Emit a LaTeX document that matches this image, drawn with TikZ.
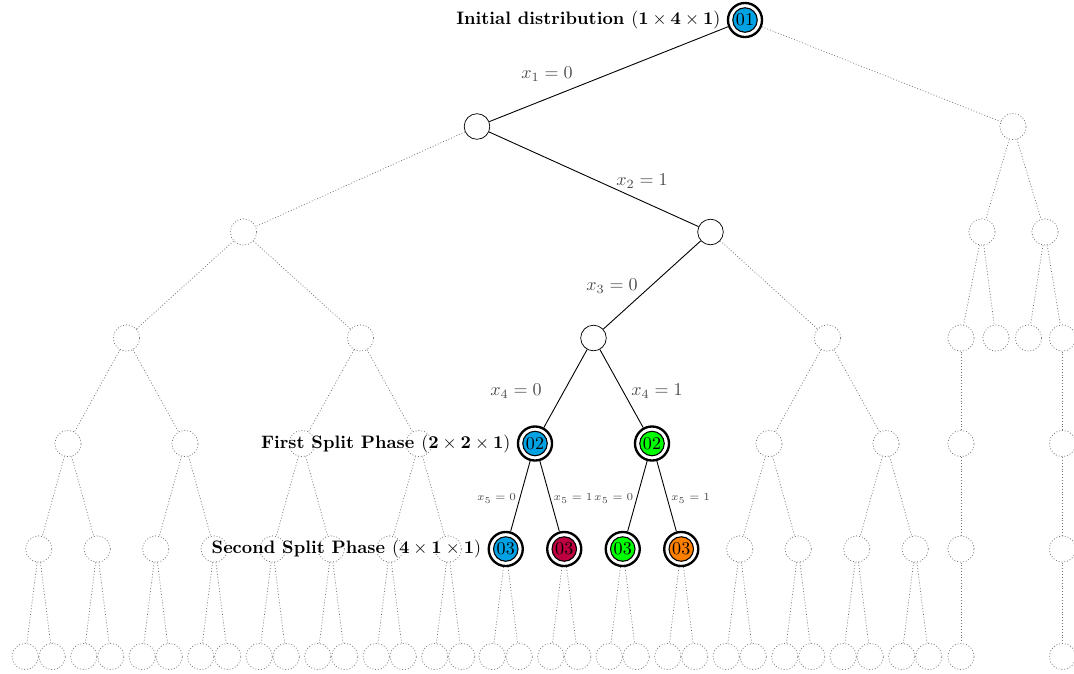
\documentclass[tikz,border=0pt]{standalone}
\definecolor{nodeblue}{RGB}{0,162,227}
\definecolor{nodered}{RGB}{191,0,64}
\definecolor{nodegreen}{RGB}{0,255,0}
\definecolor{nodeorange}{RGB}{255,128,0}
\tikzset{
  ghost/.style={circle, draw=black!55, dash pattern=on 0.5pt off 1.1pt,
    minimum size=14.6pt, inner sep=0pt},
  plain/.style={circle, draw, minimum size=14.2pt, inner sep=0pt},
  phase/.style={circle, draw, line width=1.3pt, minimum size=18.9pt, inner sep=0pt,
    path picture={\draw[line width=0.6pt, fill=#1]
      (path picture bounding box.center) circle (6.8pt);}},
  ghostedge/.style={draw=black!55, dash pattern=on 0.5pt off 1.1pt},
  pathedge/.style={draw=black, line width=0.5pt},
  elabel/.style={text=black!70},
  slabel/.style={text=black!70, font=\fontsize{6.5}{8}\selectfont},
  phaselabel/.style={font=\bfseries},
}
\begin{document}
\begin{tikzpicture}[x=0.555pt, y=-0.555pt]
\useasboundingbox (0,0) rectangle (1074,674);

% upper levels
\node[phase=nodeblue, label={[phaselabel]left:Initial distribution $(\mathbf{1}\times\mathbf{4}\times\mathbf{1})$}] (r) at (745,20) {01};
\node[plain] (a) at (477,126.5) {};
\node[ghost] (b) at (1013,126.5) {};
\node[ghost] (aa) at (243.5,232) {};
\node[plain] (ab) at (710.5,232) {};
\node[ghost] (ba) at (982,232) {};
\node[ghost] (bb) at (1045,232) {};
\node[ghost] (aaa) at (126.5,338) {};
\node[ghost] (aab) at (360.5,338) {};
\node[plain] (aba) at (593.5,338) {};
\node[ghost] (abb) at (827.5,338) {};
\node[ghost] (baa) at (961,338) {};
\node[ghost] (bab) at (996,338) {};
\node[ghost] (bba) at (1028.5,338) {};
\node[ghost] (bbb) at (1062.5,338) {};

% level 4
\foreach \i/\x in {0/68,1/185,2/302,3/419,6/769,7/886}
  \node[ghost] (n4-\i) at (\x,443.5) {};
\node[phase=nodeblue, label={[phaselabel]left:First Split Phase $(\mathbf{2}\times\mathbf{2}\times\mathbf{1})$}] (n4-4) at (535,443.5) {02};
\node[phase=nodegreen] (n4-5) at (652,443.5) {02};
\node[ghost] (r4a) at (961,443.5) {};
\node[ghost] (r4b) at (1062.5,443.5) {};

% level 5
\foreach \i/\x in {0/68,1/185,2/302,3/419,6/769,7/886} {
  \pgfmathtruncatemacro\lc{2*\i}
  \pgfmathtruncatemacro\rc{2*\i+1}
  \node[ghost] (n5-\lc) at (\x-29.25,549) {};
  \node[ghost] (n5-\rc) at (\x+29.25,549) {};
  \draw[ghostedge] (n4-\i) -- (n5-\lc);
  \draw[ghostedge] (n4-\i) -- (n5-\rc);
}
\node[phase=nodeblue, label={[phaselabel]left:Second Split Phase $(\mathbf{4}\times\mathbf{1}\times\mathbf{1})$}] (n5-8) at (505.75,549) {03};
\node[phase=nodered] (n5-9) at (564.25,549) {03};
\node[phase=nodegreen] (n5-10) at (622.75,549) {03};
\node[phase=nodeorange] (n5-11) at (681.25,549) {03};
\node[ghost] (r5a) at (961,549) {};
\node[ghost] (r5b) at (1062.5,549) {};

% level 6
\foreach \j/\x in {0/38.75,1/97.25,2/155.75,3/214.25,4/272.75,5/331.25,
    6/389.75,7/448.25,8/505.75,9/564.25,10/622.75,11/681.25,
    12/739.75,13/798.25,14/856.75,15/915.25} {
  \node[ghost] (n6-\j-a) at (\x-13.5,656.5) {};
  \node[ghost] (n6-\j-b) at (\x+13.5,656.5) {};
  \draw[ghostedge] (n5-\j) -- (n6-\j-a);
  \draw[ghostedge] (n5-\j) -- (n6-\j-b);
}
\node[ghost] (r6a) at (961,656.5) {};
\node[ghost] (r6b) at (1062.5,656.5) {};

% highlighted path
\draw[pathedge] (r) -- (a);
\draw[pathedge] (a) -- (ab);
\draw[pathedge] (ab) -- (aba);
\draw[pathedge] (aba) -- (n4-4);
\draw[pathedge] (aba) -- (n4-5);
\draw[pathedge] (n4-4) -- (n5-8);
\draw[pathedge] (n4-4) -- (n5-9);
\draw[pathedge] (n4-5) -- (n5-10);
\draw[pathedge] (n4-5) -- (n5-11);

% remaining branches
\draw[ghostedge] (r) -- (b);
\draw[ghostedge] (a) -- (aa);
\draw[ghostedge] (aa) -- (aaa);
\draw[ghostedge] (aa) -- (aab);
\draw[ghostedge] (ab) -- (abb);
\draw[ghostedge] (aaa) -- (n4-0);
\draw[ghostedge] (aaa) -- (n4-1);
\draw[ghostedge] (aab) -- (n4-2);
\draw[ghostedge] (aab) -- (n4-3);
\draw[ghostedge] (abb) -- (n4-6);
\draw[ghostedge] (abb) -- (n4-7);
\draw[ghostedge] (b) -- (ba);
\draw[ghostedge] (b) -- (bb);
\draw[ghostedge] (ba) -- (baa);
\draw[ghostedge] (ba) -- (bab);
\draw[ghostedge] (bb) -- (bba);
\draw[ghostedge] (bb) -- (bbb);
\draw[ghostedge] (baa) -- (r4a);
\draw[ghostedge] (bbb) -- (r4b);
\draw[ghostedge] (r4a) -- (r5a);
\draw[ghostedge] (r4b) -- (r5b);
\draw[ghostedge] (r5a) -- (r6a);
\draw[ghostedge] (r5b) -- (r6b);

% branch labels
\node[elabel] (l1) at (547,74) {$x_1 = 0$};
\node[elabel] (l2) at (642,181) {$x_2 = 1$};
\node[elabel] (l3) at (612,286) {$x_3 = 0$};
\node[elabel] (l4a) at (516,391) {$x_4 = 0$};
\node[elabel] (l4b) at (657,391) {$x_4 = 1$};
\node[slabel] (l5a) at (496.5,498.5) {$x_5 = 0$};
\node[slabel] (l5b) at (573,498.5) {$x_5 = 1$};
\node[slabel] (l5c) at (613.7,498.5) {$x_5 = 0$};
\node[slabel] (l5d) at (690.5,498.5) {$x_5 = 1$};
\end{tikzpicture}
\end{document}
